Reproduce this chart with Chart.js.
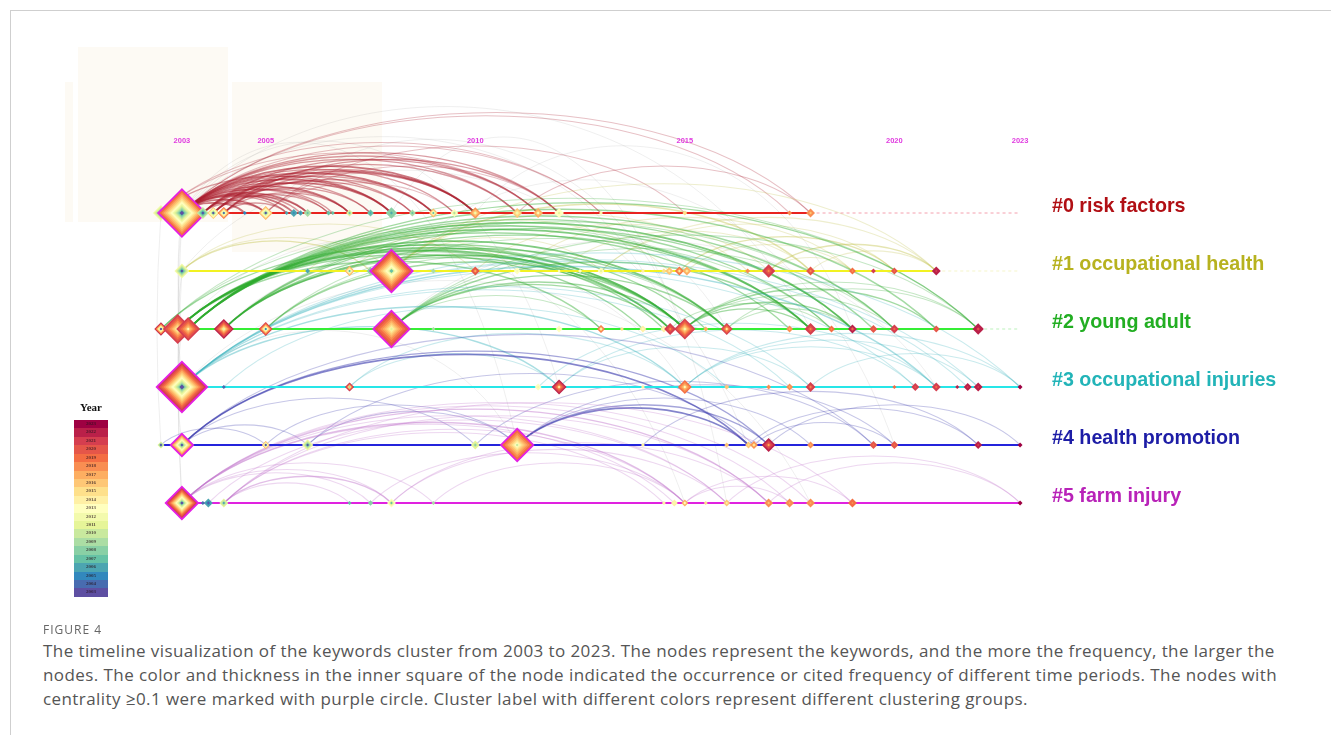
<!DOCTYPE html>
<html>
<head>
<meta charset="utf-8">
<title>Keyword cluster timeline 2003-2023</title>
<script src="https://cdn.jsdelivr.net/npm/chart.js@4.4.1/dist/chart.umd.min.js"></script>
<style>
  html, body { margin: 0; padding: 0; background: #fff; }
  body { width: 1331px; height: 735px; position: relative; overflow: hidden; font-family: "Open Sans", sans-serif; }
  #frame { position: absolute; left: 10px; top: 10px; width: 1400px; height: 800px; border-top: 1px solid #cfcfcf; border-left: 1px solid #cfcfcf; }
  .haze { position: absolute; background: rgba(247, 238, 220, 0.3); }
  #chartBox { position: absolute; left: 0; top: 0; width: 1331px; height: 600px; }
  #legendTitle { position: absolute; left: 66px; top: 401px; width: 50px; text-align: center; font: bold 11px "Liberation Serif", "DejaVu Serif", serif; color: #111; }
  #legend { position: absolute; left: 74px; top: 420px; width: 34px; height: 177px; display: flex; flex-direction: column; }
  #legend div { flex: 1; font: bold 5px "Liberation Serif", serif; color: rgba(40, 20, 30, 0.75); text-align: center; line-height: 8.4px; }
  #figNo { position: absolute; left: 43px; top: 621px; font-size: 12px; color: #666; letter-spacing: 1px; }
  #caption { position: absolute; left: 43px; top: 639px; font-size: 17px; letter-spacing: 0.42px; line-height: 24px; color: #555; white-space: nowrap; }
</style>
</head>
<body>
<div id="frame"></div>
<div class="haze" style="left:78px;top:47px;width:150px;height:175px;"></div>
<div class="haze" style="left:65px;top:82px;width:8px;height:140px;"></div>
<div class="haze" style="left:232px;top:82px;width:150px;height:170px;"></div>
<div id="chartBox"><canvas id="timeline" width="1331" height="600"></canvas></div>
<div id="legendTitle">Year</div>
<div id="legend"></div>
<div id="figNo">FIGURE 4</div>
<div id="caption">The timeline visualization of the keywords cluster from 2003 to 2023. The nodes represent the keywords, and the more the frequency, the larger the<br>nodes. The color and thickness in the inner square of the node indicated the occurrence or cited frequency of different time periods. The nodes with<br>centrality ≥0.1 were marked with purple circle. Cluster label with different colors represent different clustering groups.</div>

<script>
// Ejes y etiquetas
const yearTicks = [2003, 2005, 2010, 2015, 2020, 2023];
const legendYears = [2023, 2022, 2021, 2020, 2019, 2018, 2017, 2016, 2015, 2014, 2013,
                     2012, 2011, 2010, 2009, 2008, 2007, 2006, 2005, 2004, 2003];
const clusterLabels = ['#0 risk factors', '#1 occupational health', '#2 young adult',
                       '#3 occupational injuries', '#4 health promotion', '#5 farm injury'];

// Nodos: [año, frecuencia, primer año, último año, centralidad >= 0.1]
const nodes0 = [
  [2002.5, 16, 2003, 2012, 0], [2003, 126, 2003, 2019, 1], [2003.5, 9, 2003, 2010, 0],
  [2003.75, 9, 2003, 2016, 0], [2004, 9, 2005, 2019, 0], [2004.5, 1, 2005, 2005, 0],
  [2005, 12, 2003, 2017, 0], [2005.5, 1, 2006, 2006, 0], [2005.67, 4, 2006, 2006, 0],
  [2005.83, 2, 2005, 2006, 0], [2006, 4, 2008, 2009, 0], [2006.5, 1.5, 2007, 2007, 0],
  [2006.6, 1, 2007, 2007, 0], [2007, 3, 2008, 2011, 0], [2007.5, 3, 2007, 2007, 0],
  [2008, 8, 2007, 2008, 0], [2008.5, 3, 2008, 2009, 0], [2009, 5, 2008, 2017, 0],
  [2009.5, 4, 2010, 2013, 0], [2010, 8, 2013, 2018, 0], [2011, 6, 2013, 2016, 0],
  [2011.5, 6, 2014, 2017, 0], [2012, 6, 2012, 2013, 0], [2013, 1, 2014, 2014, 0],
  [2015, 1.5, 2015, 2015, 0], [2017.5, 1.5, 2018, 2018, 0], [2018, 5, 2017, 2018, 0]
];
const nodes1 = [
  [2003, 14, 2003, 2012, 0], [2006, 1.5, 2006, 2006, 0], [2007, 6, 2008, 2017, 0],
  [2007.5, 4, 2008, 2008, 0], [2008, 100, 2008, 2020, 1], [2009, 1.5, 2009, 2009, 0],
  [2010, 5, 2018, 2020, 0], [2011, 3, 2013, 2013, 0], [2012, 0.6, 2013, 2013, 0],
  [2012.5, 1, 2013, 2013, 0], [2013, 3, 2012, 2013, 0], [2014, 1, 2014, 2014, 0],
  [2014.5, 1.5, 2015, 2015, 0], [2014.63, 4, 2015, 2016, 0], [2014.87, 5, 2015, 2019, 0],
  [2015.05, 5, 2015, 2017, 0], [2016.5, 1.5, 2018, 2018, 0], [2017, 11, 2019, 2021, 0],
  [2018, 5, 2019, 2020, 0], [2019, 3, 2019, 2019, 0], [2019.5, 1.5, 2021, 2021, 0],
  [2020, 3, 2020, 2020, 0], [2021, 5, 2022, 2022, 0]
];
const nodes2 = [
  [2002.5, 11, 2003, 2022, 0], [2002.9, 56, 2012, 2021, 0], [2003.15, 36, 2014, 2021, 0],
  [2004, 25, 2012, 2022, 0], [2005, 12, 2006, 2021, 0], [2008, 72, 2012, 2020, 1],
  [2009, 1, 2009, 2009, 0], [2012, 3, 2013, 2013, 0], [2013, 4, 2013, 2019, 0],
  [2013.5, 1, 2015, 2015, 0], [2014, 3, 2014, 2014, 0], [2014.5, 3, 2014, 2014, 0],
  [2014.65, 9, 2019, 2021, 0], [2015, 28, 2013, 2021, 0], [2015.5, 1.5, 2017, 2017, 0],
  [2016, 9, 2015, 2021, 0], [2017.5, 3, 2018, 2018, 0], [2018, 9, 2019, 2021, 0],
  [2018.5, 3, 2019, 2019, 0], [2019, 5, 2020, 2022, 0], [2019.5, 4, 2020, 2020, 0],
  [2020, 5, 2020, 2021, 0], [2021, 3, 2020, 2020, 0], [2022, 8, 2021, 2022, 0]
];
const nodes3 = [
  [2003, 144, 2003, 2021, 1], [2004, 1, 2004, 2004, 0], [2007, 5, 2010, 2022, 0],
  [2011.5, 3, 2013, 2013, 0], [2012, 14, 2015, 2022, 0], [2014, 1, 2014, 2014, 0],
  [2015, 12, 2014, 2019, 0], [2016, 1.5, 2016, 2016, 0], [2017, 1.5, 2018, 2018, 0],
  [2017.5, 3, 2018, 2018, 0], [2018, 6, 2019, 2021, 0], [2020, 1, 2019, 2019, 0],
  [2020.5, 4, 2021, 2021, 0], [2021, 5, 2020, 2021, 0], [2021.5, 1, 2022, 2022, 0],
  [2021.75, 4, 2022, 2022, 0], [2022, 5, 2022, 2022, 0], [2023, 1.5, 2023, 2023, 0]
];
const nodes4 = [
  [2002.5, 3, 2004, 2011, 0], [2003, 25, 2003, 2018, 1], [2005, 4, 2004, 2017, 0],
  [2006, 8, 2004, 2012, 0], [2010, 5, 2009, 2011, 0], [2011, 56, 2011, 2019, 1],
  [2014, 1, 2014, 2014, 0], [2016, 1.5, 2016, 2016, 0], [2016.52, 3, 2016, 2016, 0],
  [2016.65, 4, 2015, 2018, 0], [2017, 12, 2018, 2022, 0], [2018, 3, 2018, 2018, 0],
  [2019.5, 4, 2020, 2020, 0], [2020, 4, 2020, 2020, 0], [2022, 4, 2022, 2022, 0],
  [2023, 1.5, 2023, 2023, 0]
];
const nodes5 = [
  [2003, 56, 2003, 2021, 1], [2003.5, 1, 2004, 2004, 0], [2003.63, 5, 2004, 2006, 0],
  [2004, 5, 2007, 2011, 0], [2007, 1, 2007, 2007, 0], [2007.5, 2, 2008, 2008, 0],
  [2008, 5, 2008, 2013, 0], [2009, 1, 2009, 2009, 0], [2014.5, 1, 2014, 2014, 0],
  [2014.75, 3, 2013, 2014, 0], [2015, 3, 2014, 2017, 0], [2015.5, 1, 2015, 2015, 0],
  [2016, 3, 2015, 2016, 0], [2017, 5, 2017, 2018, 0], [2017.5, 5, 2018, 2018, 0],
  [2018, 5, 2018, 2018, 0], [2019, 5, 2019, 2019, 0], [2023, 1.5, 2023, 2023, 0]
];

// Enlaces dentro de cada cluster: [año origen, año destino, peso]
const links0 = [
  [2003, 2004.5, 3], [2003, 2005, 3], [2003, 2005.5, 2], [2003, 2005.67, 3], [2003, 2005.83, 2],
  [2003, 2006, 3], [2003, 2006.5, 2], [2003, 2006.6, 2], [2003, 2007, 3], [2003, 2007.5, 2],
  [2003, 2008, 3], [2003, 2008.5, 2], [2003, 2009, 3], [2003, 2009.5, 2], [2003, 2010, 3],
  [2003, 2011, 2], [2003, 2011.5, 2], [2003, 2012, 2], [2003, 2013, 1], [2003, 2017.5, 1],
  [2003, 2018, 1], [2002.5, 2008, 2], [2002.5, 2011.5, 1], [2002.5, 2013, 1], [2003.5, 2005, 2],
  [2003.5, 2006, 2], [2003.5, 2007, 2], [2003.5, 2008, 3], [2003.5, 2009, 2], [2003.5, 2010, 2],
  [2003.5, 2011.5, 2], [2003.75, 2006.5, 2], [2003.75, 2007.5, 2], [2003.75, 2008.5, 2],
  [2003.75, 2010, 3], [2003.75, 2011, 2], [2004, 2005.5, 2], [2004, 2007, 2], [2004, 2009, 2],
  [2004, 2010, 2], [2004, 2012, 2], [2005, 2009.5, 1], [2005, 2012, 1], [2011, 2018, 1], [2005, 2015, 1]
];
const links1 = [
  [2003, 2007.5, 2], [2003, 2010, 1], [2003, 2008, 1], [2006, 2011, 1], [2008, 2013, 1],
  [2008, 2016.5, 1], [2008, 2018, 2], [2008, 2021, 1], [2011, 2019, 1], [2013, 2020, 1],
  [2013, 2021, 1], [2014.87, 2020, 2], [2015.05, 2019, 1], [2017, 2021, 2], [2017, 2019, 1],
  [2018, 2021, 1], [2007, 2014.63, 1], [2010, 2017, 1], [2012, 2018, 1]
];
const links2 = [
  [2002.9, 2013, 2], [2002.9, 2014, 2], [2002.9, 2014.5, 2], [2002.9, 2014.65, 3], [2002.9, 2015, 3],
  [2002.9, 2015.5, 2], [2002.9, 2016, 3], [2003.15, 2017.5, 2], [2003.15, 2018, 3], [2003.15, 2018.5, 2],
  [2003.15, 2019, 3], [2003.15, 2019.5, 2], [2003.15, 2020, 2], [2003.15, 2021, 2], [2003.15, 2022, 2],
  [2002.5, 2015, 2], [2002.5, 2018, 1], [2002.5, 2022, 1], [2004, 2014.65, 2], [2004, 2015, 3],
  [2004, 2016, 2], [2004, 2018, 2], [2004, 2019, 2], [2004, 2020, 1], [2005, 2015, 2],
  [2005, 2016, 1], [2005, 2018.5, 1], [2008, 2013, 1], [2008, 2014.65, 2], [2008, 2015, 2],
  [2008, 2016, 2], [2008, 2018, 2], [2008, 2020, 1], [2008, 2022, 1], [2015, 2018, 2],
  [2015, 2019, 2], [2015, 2020, 1], [2015, 2021, 2], [2015, 2022, 1], [2016, 2019, 1],
  [2016, 2022, 1], [2014.65, 2018.5, 1]
];
const links3 = [
  [2003, 2012, 2], [2003, 2015, 2], [2003, 2017.5, 1], [2003, 2018, 1], [2003, 2020.5, 1],
  [2003, 2021, 2], [2003, 2021.75, 1], [2003, 2022, 1], [2003, 2023, 1], [2007, 2012, 1],
  [2007, 2015, 1], [2012, 2018, 1], [2012, 2020.5, 1], [2015, 2021, 1], [2015, 2022, 1],
  [2015, 2023, 1], [2004, 2016, 1], [2011.5, 2021, 1], [2018, 2023, 1]
];
const links4 = [
  [2003, 2016.52, 3], [2003, 2017, 2], [2011, 2016.52, 3], [2011, 2017, 2], [2002.5, 2005, 1],
  [2003, 2006, 1], [2003, 2010, 1], [2005, 2011, 1], [2006, 2011, 1], [2006, 2016.65, 1],
  [2010, 2019.5, 1], [2011, 2020, 1], [2011, 2018, 1], [2016.52, 2022, 1], [2017, 2023, 1],
  [2016.65, 2020, 1], [2014, 2022, 1], [2003, 2019.5, 1]
];
const links5 = [
  [2003, 2007.5, 1], [2003, 2008, 1], [2003, 2014.75, 1], [2003, 2015, 2], [2003, 2016, 1],
  [2003, 2017, 2], [2003, 2017.5, 1], [2003, 2018, 1], [2004, 2007, 1], [2004, 2008, 2],
  [2004, 2014.5, 1], [2004, 2015, 1], [2004, 2017, 1], [2004, 2019, 1], [2003.63, 2016, 1],
  [2007.5, 2015, 1], [2008, 2016, 1], [2008, 2017, 1], [2015, 2017.5, 1], [2015, 2019, 1],
  [2016, 2023, 1], [2017, 2023, 1], [2009, 2015, 1], [2003, 2009, 1]
];

// Enlaces entre clusters: [cluster A, año A, cluster B, año B]
const crossLinks = [
  [0, 2003, 5, 2003], [0, 2002.5, 4, 2002.5], [0, 2003, 3, 2003], [1, 2003, 5, 2003],
  [0, 2003, 2, 2003], [1, 2003, 3, 2003], [2, 2003, 4, 2003], [0, 2003, 4, 2011],
  [0, 2003, 3, 2012], [1, 2003, 4, 2016.5], [2, 2003, 5, 2015], [3, 2003, 5, 2018],
  [0, 2008, 5, 2016], [1, 2008, 4, 2020], [2, 2008, 3, 2021], [0, 2005, 2, 2015],
  [0, 2010, 2, 2019], [1, 2008, 2, 2016], [3, 2003, 4, 2011], [2, 2004, 3, 2015],
  [0, 2003, 1, 2014], [0, 2003, 2, 2018]
];

const allNodes = [nodes0, nodes1, nodes2, nodes3, nodes4, nodes5];
const allLinks = [links0, links1, links2, links3, links4, links5];

// Colores por cluster
const lineColors = ['#e8231f', '#f2f222', '#35ee35', '#26e6e8', '#2424dc', '#e022e0'];
const tailColors = ['rgba(240,120,140,0.7)', 'rgba(235,235,150,0.5)', 'rgba(120,230,120,0.5)', null, null, null];
const labelColors = ['#b10f14', '#b7b21f', '#22ae22', '#22b4b8', '#1d1da6', '#b822b8'];
const arcColors = [[170, 30, 45], [195, 195, 80], [45, 170, 45], [60, 180, 190], [50, 50, 170], [190, 110, 200]];

// Escala de colores por año (Spectral)
const spectral = ['#9e0142', '#d53e4f', '#f46d43', '#fdae61', '#fee08b', '#ffffbf',
                  '#e6f598', '#abdda4', '#66c2a5', '#3288bd', '#5e4fa2'];
function hexToRgb(h) {
  return [parseInt(h.slice(1, 3), 16), parseInt(h.slice(3, 5), 16), parseInt(h.slice(5, 7), 16)];
}
function yearColor(year) {
  const t = Math.min(Math.max((2023 - year) / 20, 0), 1) * (spectral.length - 1);
  const i = Math.min(Math.floor(t), spectral.length - 2);
  const f = t - i;
  const a = hexToRgb(spectral[i]), b = hexToRgb(spectral[i + 1]);
  const c = a.map((v, k) => Math.round(v + (b[k] - v) * f));
  return `rgb(${c[0]},${c[1]},${c[2]})`;
}

// Leyenda de años
const legendEl = document.getElementById('legend');
legendYears.forEach(y => {
  const cell = document.createElement('div');
  cell.style.background = yearColor(y);
  cell.textContent = y;
  legendEl.appendChild(cell);
});

function diamond(ctx, x, y, r) {
  ctx.beginPath();
  ctx.moveTo(x, y - r);
  ctx.lineTo(x + r, y);
  ctx.lineTo(x, y + r);
  ctx.lineTo(x - r, y);
  ctx.closePath();
}

function arcPath(ctx, x1, y1, x2, y2) {
  const span = Math.abs(x2 - x1);
  const top = Math.min(y1, y2);
  const h = 0.16 * span + Math.abs(y2 - y1) * 0.15;
  const c = h / 0.75;
  const a = 0.22 * span;
  const dir = x2 >= x1 ? 1 : -1;
  ctx.beginPath();
  ctx.moveTo(x1, y1);
  ctx.bezierCurveTo(x1 + dir * a, top - c, x2 - dir * a, top - c, x2, y2);
}

// Plugin: arcos, nodos, etiquetas
const timelinePlugin = {
  id: 'timeline',
  beforeDatasetsDraw(chart) {
    const ctx = chart.ctx;
    const sx = chart.scales.x, sy = chart.scales.y;
    ctx.save();
    // enlaces entre clusters, grises y tenues
    ctx.lineWidth = 1;
    crossLinks.forEach(l => {
      const x1 = sx.getPixelForValue(l[1]), y1 = sy.getPixelForValue(l[0]);
      const x2 = sx.getPixelForValue(l[3]), y2 = sy.getPixelForValue(l[2]);
      ctx.strokeStyle = 'rgba(150,150,150,0.15)';
      if (Math.abs(x2 - x1) < 2) {
        ctx.beginPath();
        ctx.moveTo(x1, y1);
        ctx.quadraticCurveTo(x1 - 8, (y1 + y2) / 2, x2, y2);
      } else {
        arcPath(ctx, x1, y1, x2, y2);
      }
      ctx.stroke();
    });
    // arcos de cada cluster
    allLinks.forEach((links, row) => {
      const y = sy.getPixelForValue(row);
      const col = arcColors[row];
      links.forEach(l => {
        const x1 = sx.getPixelForValue(l[0]), x2 = sx.getPixelForValue(l[1]);
        const w = l[2];
        ctx.strokeStyle = `rgba(${col[0]},${col[1]},${col[2]},${0.12 + 0.16 * w})`;
        ctx.lineWidth = 0.7 + 0.35 * w;
        arcPath(ctx, x1, y, x2, y);
        ctx.stroke();
      });
    });
    ctx.restore();
  },
  afterDatasetsDraw(chart) {
    const ctx = chart.ctx;
    const sx = chart.scales.x, sy = chart.scales.y;
    ctx.save();
    chart.data.datasets.forEach((ds, i) => {
      if (!ds.nodes) return;
      const meta = chart.getDatasetMeta(i);
      meta.data.forEach((pt, j) => {
        const n = ds.nodes[j];
        const r = 2 * Math.sqrt(n[1]);
        const first = n[2], last = n[3];
        if (n[4]) {
          diamond(ctx, pt.x, pt.y, r + 2.5);
          ctx.fillStyle = '#e41ee4';
          ctx.fill();
        }
        // anillos: los años recientes ocupan la parte exterior
        const span = last - first + 1;
        for (let yr = last; yr >= first; yr--) {
          const f = Math.pow((yr - first + 1) / span, 1.6);
          diamond(ctx, pt.x, pt.y, Math.max(r * f, 0.8));
          ctx.fillStyle = yearColor(yr);
          ctx.fill();
        }
        if (r > 3) {
          diamond(ctx, pt.x, pt.y, Math.max(1.2, r * 0.1));
          ctx.fillStyle = yearColor(first - 1);
          ctx.fill();
        }
      });
    });
    // años arriba
    ctx.fillStyle = '#e03ce0';
    ctx.font = 'bold 7.5px "Liberation Sans", Arial, sans-serif';
    ctx.textAlign = 'center';
    ctx.textBaseline = 'middle';
    yearTicks.forEach(y => {
      ctx.fillText(String(y), sx.getPixelForValue(y), chart.chartArea.top - 14);
    });
    // etiquetas de cluster
    ctx.font = 'bold 19.7px "Liberation Sans", Arial, sans-serif';
    ctx.textAlign = 'left';
    clusterLabels.forEach((txt, row) => {
      ctx.fillStyle = labelColors[row];
      ctx.fillText(txt, chart.chartArea.right - 10, sy.getPixelForValue(row) - 6);
    });
    ctx.restore();
  }
};

// Datasets: líneas de cada cluster, prolongación y nodos
const datasets = [];
allNodes.forEach((nodes, row) => {
  const years = nodes.map(n => n[0]);
  const start = Math.min(...years), end = Math.max(...years);
  datasets.push({
    data: [{ x: start, y: row }, { x: end, y: row }],
    showLine: true, borderColor: lineColors[row], borderWidth: 2, pointRadius: 0
  });
  if (end < 2023 && tailColors[row]) {
    datasets.push({
      data: [{ x: end, y: row }, { x: 2023, y: row }],
      showLine: true, borderColor: tailColors[row], borderWidth: 1, borderDash: [3, 3], pointRadius: 0
    });
  }
  datasets.push({
    data: nodes.map(n => ({ x: n[0], y: row })),
    nodes: nodes, pointRadius: 0, showLine: false
  });
});

new Chart(document.getElementById('timeline'), {
  type: 'scatter',
  data: { datasets: datasets },
  options: {
    responsive: false,
    animation: false,
    events: [],
    layout: { padding: { left: 140, right: 269, top: 155, bottom: 39 } },
    plugins: { legend: { display: false }, tooltip: { enabled: false } },
    scales: {
      x: { type: 'linear', min: 2002, max: 2024, display: false },
      y: { type: 'linear', min: -1, max: 6, reverse: true, display: false }
    }
  },
  plugins: [timelinePlugin]
});
</script>
</body>
</html>
